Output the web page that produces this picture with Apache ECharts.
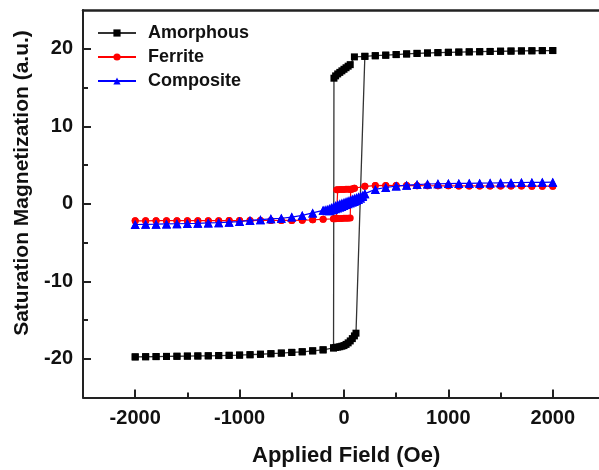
<!DOCTYPE html>
<html>
<head>
<meta charset="utf-8">
<script src="https://cdn.jsdelivr.net/npm/echarts@6/dist/echarts.min.js"></script>
<style>
html,body{margin:0;padding:0;background:#fff;}
#chart{width:599px;height:470px;}
</style>
</head>
<body>
<div id="chart"></div>
<script>
// ---------- data ----------
const seriesNames = ['Amorphous', 'Ferrite', 'Composite'];
const xTickValues = [-2000, -1000, 0, 1000, 2000];
const xMinorTicks = [-1500, -500, 500, 1500];
const yTickValues = [-20, -10, 0, 10, 20];
const yMinorTicks = [-15, -5, 5, 15];

// saturation fields (Oe)
const fieldHigh = [200, 300, 400, 500, 600, 700, 800, 900, 1000, 1100, 1200, 1300, 1400, 1500, 1600, 1700, 1800, 1900, 2000];
const fieldLow = [-200, -300, -400, -500, -600, -700, -800, -900, -1000, -1100, -1200, -1300, -1400, -1500, -1600, -1700, -1800, -1900, -2000];

// Amorphous
const amorphousHigh = [19.02, 19.1, 19.17, 19.25, 19.33, 19.4, 19.45, 19.5, 19.54, 19.57, 19.6, 19.62, 19.65, 19.68, 19.7, 19.72, 19.74, 19.76, 19.77];
const amorphousLow = [-18.85, -18.98, -19.1, -19.18, -19.27, -19.35, -19.42, -19.48, -19.53, -19.56, -19.59, -19.62, -19.64, -19.66, -19.68, -19.7, -19.72, -19.74, -19.76];
const amorphousDownH = [100, 60, 40, 20, 0, -20, -40, -60, -80, -96, -100];
const amorphousDownM = [18.95, 17.95, 17.75, 17.55, 17.35, 17.15, 16.95, 16.75, 16.5, 16.2, -18.6];
const amorphousUpH = [-100, -80, -60, -40, -20, 0, 20, 40, 60, 80, 100, 115];
const amorphousUpM = [-18.6, -18.55, -18.5, -18.45, -18.38, -18.3, -18.15, -17.95, -17.7, -17.4, -17.05, -16.7];

// Ferrite
const ferriteHigh = [2.25, 2.35, 2.36, 2.35, 2.34, 2.33, 2.32, 2.31, 2.31, 2.3, 2.3, 2.3, 2.29, 2.29, 2.28, 2.28, 2.27, 2.27, 2.27];
const ferriteLow = [-2.0, -2.08, -2.12, -2.15, -2.15, -2.16, -2.16, -2.17, -2.17, -2.17, -2.18, -2.18, -2.18, -2.18, -2.19, -2.19, -2.19, -2.2, -2.2];
const ferriteDownH = [100, 80, 60, 40, 20, 0, -20, -40, -60, -70, -72, -100];
const ferriteDownM = [2.0, 1.9, 1.88, 1.87, 1.86, 1.85, 1.84, 1.83, 1.82, 1.8, -1.88, -1.95];
const ferriteUpH = [-100, -80, -60, -40, -20, 0, 20, 40, 60, 64, 80, 100];
const ferriteUpM = [-1.95, -1.92, -1.91, -1.9, -1.89, -1.88, -1.87, -1.86, -1.85, 1.85, 1.9, 2.0];

// Composite
const compositeHigh = [1.3, 1.85, 2.1, 2.28, 2.4, 2.48, 2.55, 2.58, 2.6, 2.62, 2.64, 2.66, 2.68, 2.7, 2.72, 2.74, 2.75, 2.76, 2.78];
const compositeLow = [-0.85, -1.18, -1.5, -1.72, -1.87, -1.95, -2.05, -2.15, -2.3, -2.38, -2.44, -2.48, -2.52, -2.55, -2.58, -2.6, -2.63, -2.65, -2.68];
const compositeDownH = [180, 160, 140, 120, 100, 80, 60, 40, 20, 0, -20, -40, -60, -80, -100, -120, -140, -160, -180];
const compositeDownM = [1.1, 1.0, 0.9, 0.8, 0.7, 0.6, 0.5, 0.4, 0.3, 0.2, 0.1, 0.0, -0.1, -0.22, -0.35, -0.48, -0.6, -0.7, -0.78];
const compositeUpH = [-160, -140, -120, -100, -80, -60, -40, -20, 0, 20, 40, 60, 80, 100, 120, 140, 160, 180];
const compositeUpM = [-0.9, -0.9, -0.82, -0.75, -0.65, -0.55, -0.45, -0.35, -0.22, -0.1, 0.0, 0.1, 0.2, 0.3, 0.42, 0.55, 0.7, 0.95];

// ---------- build loops ----------
function pairs(h, m) { return h.map((x, i) => [x, m[i]]); }
function loop(high, low, downH, downM, upH, upM) {
  const hi = pairs(fieldHigh, high);
  const lo = pairs(fieldLow, low);
  return [].concat(
    hi.slice().reverse(),
    pairs(downH, downM),
    lo,
    lo.slice().reverse(),
    pairs(upH, upM),
    hi
  );
}
const amorphousData = loop(amorphousHigh, amorphousLow, amorphousDownH, amorphousDownM, amorphousUpH, amorphousUpM);
const ferriteData = loop(ferriteHigh, ferriteLow, ferriteDownH, ferriteDownM, ferriteUpH, ferriteUpM);
const compositeData = loop(compositeHigh, compositeLow, compositeDownH, compositeDownM, compositeUpH, compositeUpM);

const FONT = '"Liberation Sans", Arial, sans-serif';
const chart = echarts.init(document.getElementById('chart'), null, {renderer: 'canvas'});

const X_MIN = -2500, X_MAX = 2443;
const plainNum = v => String(v);

const option = {
  animation: false,
  backgroundColor: '#fff',
  grid: {left: 83, right: 0, top: 10, bottom: 72.5, show: false},
  legend: {
    orient: 'vertical', left: 92, top: 19,
    itemWidth: 38, itemHeight: 9, itemGap: 6,
    textStyle: {fontFamily: FONT, fontWeight: 'bold', fontSize: 18, color: '#111', padding: [0, 0, 0, 7]},
    data: seriesNames
  },
  xAxis: [{
    type: 'value', position: 'bottom', min: X_MIN, max: X_MAX,
    splitLine: {show: false},
    axisLine: {show: true, onZero: false, lineStyle: {color: '#222', width: 2}},
    axisTick: {show: true, inside: true, length: 8, customValues: xTickValues, lineStyle: {color: '#222', width: 2}},
    axisLabel: {customValues: xTickValues, formatter: plainNum, fontFamily: FONT, fontWeight: 'bold', fontSize: 20, color: '#111', margin: 11},
  }, {
    type: 'value', position: 'bottom', min: X_MIN, max: X_MAX,
    splitLine: {show: false},
    axisLine: {show: false, onZero: false},
    axisTick: {show: true, inside: true, length: 5, customValues: xMinorTicks, lineStyle: {color: '#222', width: 2}},
    axisLabel: {show: false}
  }, {
    type: 'value', position: 'top', min: X_MIN, max: X_MAX,
    splitLine: {show: false},
    axisLine: {show: true, onZero: false, lineStyle: {color: '#222', width: 2.5}},
    axisTick: {show: false},
    axisLabel: {show: false}
  }],
  yAxis: [{
    type: 'value', position: 'left', min: -25, max: 25,
    splitLine: {show: false},
    axisLine: {show: true, onZero: false, lineStyle: {color: '#222', width: 2}},
    axisTick: {show: true, inside: true, length: 8, customValues: yTickValues, lineStyle: {color: '#222', width: 2}},
    axisLabel: {customValues: yTickValues, formatter: plainNum, fontFamily: FONT, fontWeight: 'bold', fontSize: 20, color: '#111', margin: 10},
  }, {
    type: 'value', position: 'left', min: -25, max: 25,
    splitLine: {show: false},
    axisLine: {show: false, onZero: false},
    axisTick: {show: true, inside: true, length: 5, customValues: yMinorTicks, lineStyle: {color: '#222', width: 2}},
    axisLabel: {show: false}
  }],
  graphic: [{
    type: 'text', left: 252, top: 445,
    style: {text: 'Applied Field (Oe)', font: 'bold 22px ' + FONT, fill: '#111'}
  }, {
    type: 'text', rotation: Math.PI / 2, x: 22, y: 183,
    style: {text: 'Saturation Magnetization (a.u.)', font: 'bold 21px ' + FONT, fill: '#111', textAlign: 'center', textVerticalAlign: 'middle'}
  }],
  series: [{
    name: 'Amorphous', type: 'line', xAxisIndex: 0, yAxisIndex: 0,
    data: amorphousData, symbol: 'rect', symbolSize: 7,
    itemStyle: {color: '#000'}, lineStyle: {color: '#333', width: 1.3}, z: 3
  }, {
    name: 'Ferrite', type: 'line', xAxisIndex: 0, yAxisIndex: 0,
    data: ferriteData, symbol: 'circle', symbolSize: 7,
    itemStyle: {color: '#ff0000'}, lineStyle: {color: '#ff0000', width: 1.2}, z: 4
  }, {
    name: 'Composite', type: 'line', xAxisIndex: 0, yAxisIndex: 0,
    data: compositeData, symbol: 'triangle', symbolSize: 9,
    itemStyle: {color: '#0000ff'}, lineStyle: {color: '#0000ff', width: 1.2}, z: 5
  }]
};
chart.setOption(option);
</script>
</body>
</html>
